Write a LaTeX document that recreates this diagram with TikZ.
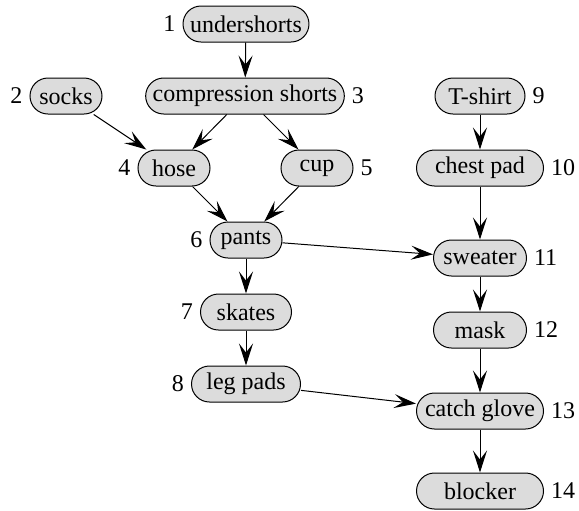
\documentclass[tikz,border=0pt]{standalone}
\usepackage{fontspec}
\setmainfont{Liberation Serif}
\newfontfamily\garmentfont{Liberation Serif}
\usetikzlibrary{arrows.meta}
\definecolor{cloth}{RGB}{220, 220, 220}
\tikzset{
    item/.style={draw, fill=cloth, line width=0.5pt, rounded corners=9pt, minimum height=18pt, minimum width=36pt,
                 inner xsep=3.5pt, inner ysep=0pt, font=\garmentfont\fontsize{12}{14}\selectfont, label distance=2pt},
    every label/.style={font=\garmentfont\fontsize{12}{14}\selectfont},
    wear/.style={-{Stealth[length=11pt, width=7pt, inset=4.5pt]}, line width=0.5pt},
}

\begin{document}
\begin{tikzpicture}[x=0.5pt, y=-0.5pt]
            \useasboundingbox                                                            (0, 0) rectangle (579, 510);
            \node[item, label=left:1]                                        (under)   at (246,  24) {undershorts};
            \node[item, label=left:2]                                        (socks)   at ( 66,  96) {socks};
            \node[item, label=right:3]                                       (comp)    at (245,  96) {compression shorts};
            \node[item, label=left:4]                                        (hose)    at (174, 168) {hose};
            \node[item, label=right:5]                                       (cup)     at (317, 168) {cup};
            \node[item, label=left:6]                                        (pants)   at (246, 240) {pants};
            \node[item, label=left:7,   minimum width=45.5pt]                (skates)  at (246, 312) {skates};
            \node[item, label=left:8,   minimum width=54.5pt]                (legpads) at (246, 384) {leg pads};
            \node[item, label=right:9,  minimum width=45pt]                  (tshirt)  at (480,  96) {T-shirt};
            \node[item, label=right:10, minimum width=63.5pt]                (chest)   at (480, 168) {chest pad};
            \node[item, label=right:11, minimum width=46.5pt]                (sweater) at (480, 258) {sweater};
            \node[item, label=right:12, minimum width=46.5pt]                (mask)    at (480, 330) {mask};
            \node[item, label=right:13, minimum width=63.5pt]                (glove)   at (480, 411) {catch glove};
            \node[item, label=right:14, minimum width=63.5pt]                (blocker) at (480, 491) {blocker};
            \draw[wear] (under)   -- (comp);
            \draw[wear] (socks)   -- (hose);
            \draw[wear] (comp)    -- (hose);
            \draw[wear] (comp)    -- (cup);
            \draw[wear] (hose)    -- (pants);
            \draw[wear] (cup)     -- (pants);
            \draw[wear] (pants)   -- (skates);
            \draw[wear] (pants)   -- (sweater);
            \draw[wear] (skates)  -- (legpads);
            \draw[wear] (legpads) -- (glove);
            \draw[wear] (tshirt)  -- (chest);
            \draw[wear] (chest)   -- (sweater);
            \draw[wear] (sweater) -- (mask);
            \draw[wear] (mask)    -- (glove);
            \draw[wear] (glove)   -- (blocker);
            \end{tikzpicture}
\end{document}
